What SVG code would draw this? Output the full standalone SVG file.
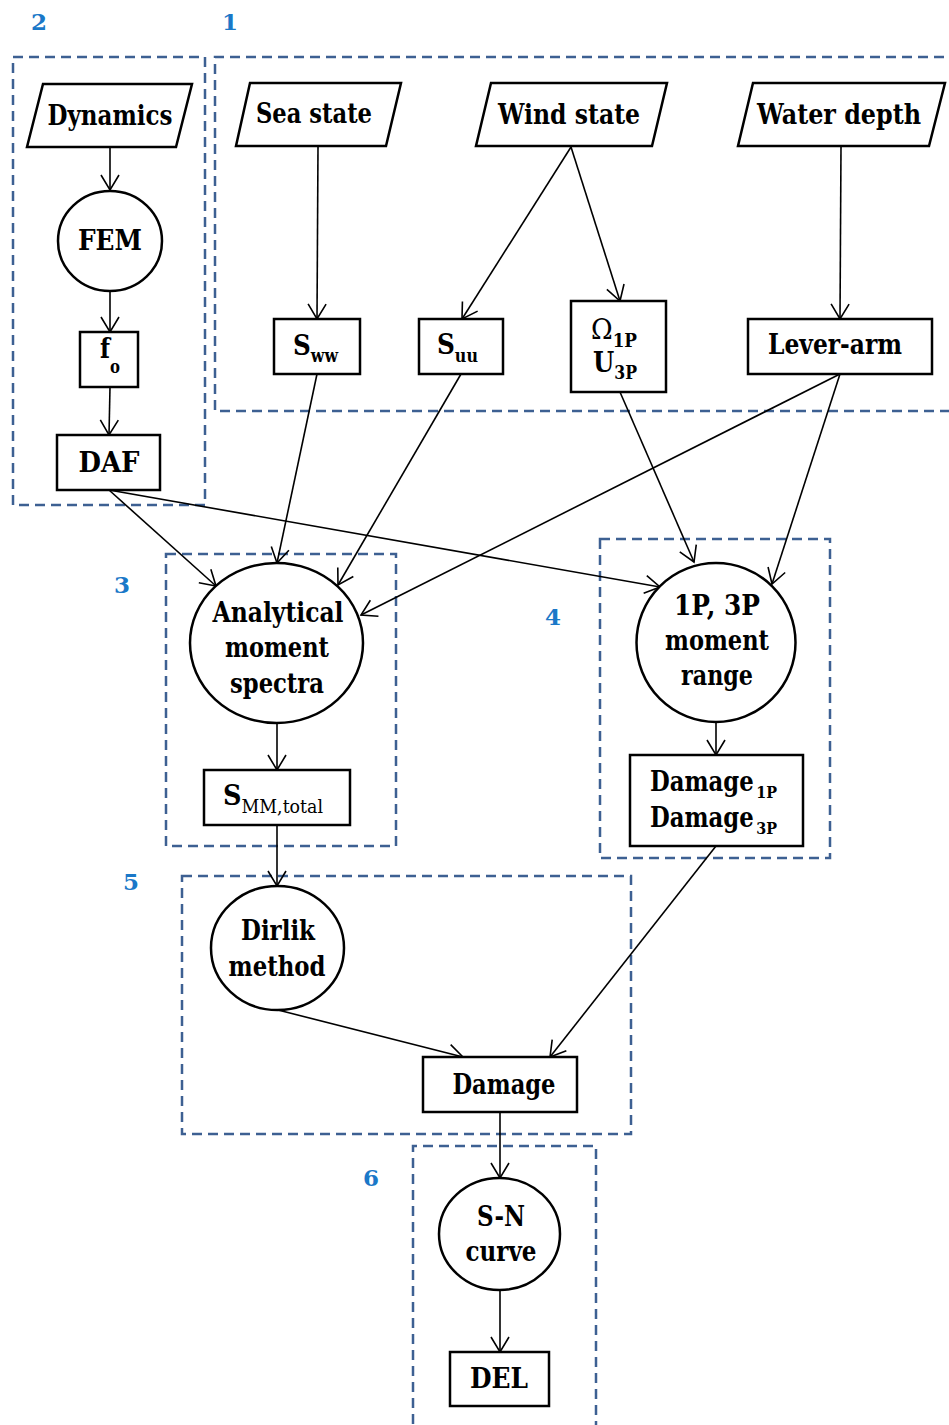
<svg xmlns="http://www.w3.org/2000/svg" width="949" height="1425" viewBox="0 0 949 1425">
  <style>
    .grp { fill: none; stroke: #3d6092; stroke-width: 2.5; stroke-dasharray: 10 6; }
    .num { font-family: "DejaVu Serif", "Liberation Serif", serif; font-weight: bold; font-size: 23px; fill: #1a78c8; text-anchor: middle; }
    .shape { fill: #fff; stroke: #000; stroke-width: 2.5; }
    .lbl { font-family: "DejaVu Serif", "Liberation Serif", serif; font-weight: bold; font-size: 28px; fill: #000; text-anchor: middle; }
    .st { text-anchor: start; }
    .sub { font-size: 18px; }
    .subr { font-size: 19px; font-weight: normal; }
    .dmg { font-size: 27px; }
    .dmg .sub { font-size: 17px; }
    .edge { fill: none; stroke: #000; stroke-width: 1.6; marker-end: url(#arr); }
  </style>
  <defs>
    <marker id="arr" markerWidth="20" markerHeight="22" refX="17" refY="11" orient="auto" markerUnits="userSpaceOnUse">
      <path d="M2,2 L17,11 L2,20" fill="none" stroke="#000" stroke-width="1.6"/>
    </marker>
  </defs>
  <rect width="949" height="1425" fill="#fff"/>

  <!-- dashed stage frames and their numbers -->
  <g id="stages">
    <rect class="grp" x="13" y="57" width="192" height="448"/>
    <path class="grp" d="M960,57 H215 V411 H960"/>
    <rect class="grp" x="166" y="554" width="230" height="292"/>
    <rect class="grp" x="600" y="539" width="230" height="319"/>
    <rect class="grp" x="182" y="876" width="449" height="258"/>
    <path class="grp" d="M413,1440 V1146 H596 V1440"/>
    <text class="num" x="39" y="30">2</text>
    <text class="num" x="230" y="30">1</text>
    <text class="num" x="122" y="593">3</text>
    <text class="num" x="553" y="625">4</text>
    <text class="num" x="131" y="890">5</text>
    <text class="num" x="371" y="1186">6</text>
  </g>

  <!-- connectors -->
  <g id="connectors">
    <line class="edge" x1="110" y1="147" x2="110" y2="190"/>
    <line class="edge" x1="110" y1="291" x2="110" y2="332"/>
    <line class="edge" x1="110" y1="387" x2="109" y2="435"/>
    <line class="edge" x1="318" y1="147" x2="317" y2="319"/>
    <line class="edge" x1="571" y1="147" x2="462" y2="319"/>
    <line class="edge" x1="571" y1="147" x2="620" y2="301"/>
    <line class="edge" x1="841" y1="147" x2="840" y2="319"/>
    <line class="edge" x1="109" y1="490" x2="216" y2="586"/>
    <line class="edge" x1="109" y1="490" x2="660" y2="587"/>
    <line class="edge" x1="317" y1="374" x2="277" y2="563"/>
    <line class="edge" x1="461" y1="374" x2="338" y2="585"/>
    <line class="edge" x1="840" y1="374" x2="361" y2="615"/>
    <line class="edge" x1="840" y1="374" x2="772" y2="584"/>
    <line class="edge" x1="620" y1="392" x2="694" y2="562"/>
    <line class="edge" x1="277" y1="723" x2="277" y2="770"/>
    <line class="edge" x1="716" y1="722" x2="716" y2="755"/>
    <line class="edge" x1="277" y1="825" x2="277" y2="886"/>
    <line class="edge" x1="716" y1="846" x2="550" y2="1057"/>
    <line class="edge" x1="278" y1="1010" x2="463" y2="1057"/>
    <line class="edge" x1="500" y1="1112" x2="500" y2="1178"/>
    <line class="edge" x1="500" y1="1290" x2="500" y2="1352"/>
  </g>

  <!-- stage 2 -->
  <g id="dynamics">
    <polygon class="shape" points="43,84 192,84 176,147 27,147"/>
    <text class="lbl" x="110" y="125" textLength="125" lengthAdjust="spacingAndGlyphs">Dynamics</text>
  </g>
  <g id="fem">
    <ellipse class="shape" cx="110" cy="241" rx="52" ry="50"/>
    <text class="lbl" x="110" y="250" textLength="64" lengthAdjust="spacingAndGlyphs">FEM</text>
  </g>
  <g id="fo">
    <rect class="shape" x="80" y="332" width="58" height="55"/>
    <text class="lbl st" x="100" y="358" textLength="20" lengthAdjust="spacingAndGlyphs">f<tspan class="sub" dy="15">o</tspan></text>
  </g>
  <g id="daf">
    <rect class="shape" x="57" y="435" width="103" height="55"/>
    <text class="lbl" x="109" y="472" textLength="61" lengthAdjust="spacingAndGlyphs">DAF</text>
  </g>

  <!-- stage 1 -->
  <g id="sea-state">
    <polygon class="shape" points="250,83 401,83 386,146 236,146"/>
    <text class="lbl" x="314" y="123" textLength="116" lengthAdjust="spacingAndGlyphs">Sea state</text>
  </g>
  <g id="wind-state">
    <polygon class="shape" points="491,83 667,83 652,146 476,146"/>
    <text class="lbl" x="569" y="124" textLength="142" lengthAdjust="spacingAndGlyphs">Wind state</text>
  </g>
  <g id="water-depth">
    <polygon class="shape" points="753,83 945,83 929,146 738,146"/>
    <text class="lbl" x="839" y="124" textLength="164" lengthAdjust="spacingAndGlyphs">Water depth</text>
  </g>
  <g id="sww">
    <rect class="shape" x="274" y="319" width="86" height="55"/>
    <text class="lbl st" x="293" y="355" textLength="45" lengthAdjust="spacingAndGlyphs">S<tspan class="sub" dy="7">ww</tspan></text>
  </g>
  <g id="suu">
    <rect class="shape" x="419" y="319" width="84" height="55"/>
    <text class="lbl st" x="437" y="354" textLength="41" lengthAdjust="spacingAndGlyphs">S<tspan class="sub" dy="8">uu</tspan></text>
  </g>
  <g id="omega-u">
    <rect class="shape" x="571" y="301" width="95" height="91"/>
    <text class="lbl st" x="591" y="339" textLength="46" lengthAdjust="spacingAndGlyphs"><tspan font-weight="normal">Ω</tspan><tspan class="sub" dy="8">1P</tspan></text>
    <text class="lbl st" x="593" y="372" textLength="44" lengthAdjust="spacingAndGlyphs">U<tspan class="sub" dy="7">3P</tspan></text>
  </g>
  <g id="lever-arm">
    <rect class="shape" x="748" y="319" width="184" height="55"/>
    <text class="lbl" x="835" y="354" textLength="134" lengthAdjust="spacingAndGlyphs">Lever-arm</text>
  </g>

  <!-- stage 3 -->
  <g id="analytical">
    <ellipse class="shape" cx="276.5" cy="643" rx="86.5" ry="80"/>
    <text class="lbl" x="278" y="622" textLength="131" lengthAdjust="spacingAndGlyphs">Analytical</text>
    <text class="lbl" x="277" y="657" textLength="104" lengthAdjust="spacingAndGlyphs">moment</text>
    <text class="lbl" x="277" y="693" textLength="94" lengthAdjust="spacingAndGlyphs">spectra</text>
  </g>
  <g id="smm">
    <rect class="shape" x="204" y="770" width="146" height="55"/>
    <text class="lbl st" x="223" y="805" textLength="100" lengthAdjust="spacingAndGlyphs">S<tspan class="subr" dy="8">MM,total</tspan></text>
  </g>

  <!-- stage 4 -->
  <g id="range">
    <circle class="shape" cx="716" cy="642.5" r="79.5"/>
    <text class="lbl" x="717" y="615" textLength="86" lengthAdjust="spacingAndGlyphs">1P, 3P</text>
    <text class="lbl" x="717" y="650" textLength="104" lengthAdjust="spacingAndGlyphs">moment</text>
    <text class="lbl" x="717" y="685" textLength="72" lengthAdjust="spacingAndGlyphs">range</text>
  </g>
  <g id="damage-1p3p">
    <rect class="shape" x="630" y="755" width="173" height="91"/>
    <text class="lbl st dmg" x="650" y="791" textLength="127" lengthAdjust="spacingAndGlyphs">Damage<tspan class="sub" dx="3" dy="7">1P</tspan></text>
    <text class="lbl st dmg" x="650" y="827" textLength="127" lengthAdjust="spacingAndGlyphs">Damage<tspan class="sub" dx="3" dy="7">3P</tspan></text>
  </g>

  <!-- stage 5 -->
  <g id="dirlik">
    <ellipse class="shape" cx="277.5" cy="948" rx="66.5" ry="62"/>
    <text class="lbl" x="278" y="940" textLength="74" lengthAdjust="spacingAndGlyphs">Dirlik</text>
    <text class="lbl" x="277" y="976" textLength="97" lengthAdjust="spacingAndGlyphs">method</text>
  </g>
  <g id="damage">
    <rect class="shape" x="423" y="1057" width="154" height="55"/>
    <text class="lbl" x="504" y="1094" textLength="103" lengthAdjust="spacingAndGlyphs">Damage</text>
  </g>

  <!-- stage 6 -->
  <g id="sn-curve">
    <ellipse class="shape" cx="499.5" cy="1234" rx="60.5" ry="56"/>
    <text class="lbl" x="501" y="1226" textLength="48" lengthAdjust="spacingAndGlyphs">S-N</text>
    <text class="lbl" x="501" y="1261" textLength="71" lengthAdjust="spacingAndGlyphs">curve</text>
  </g>
  <g id="del">
    <rect class="shape" x="450" y="1352" width="99" height="54"/>
    <text class="lbl" x="499" y="1388" textLength="58" lengthAdjust="spacingAndGlyphs">DEL</text>
  </g>
</svg>
